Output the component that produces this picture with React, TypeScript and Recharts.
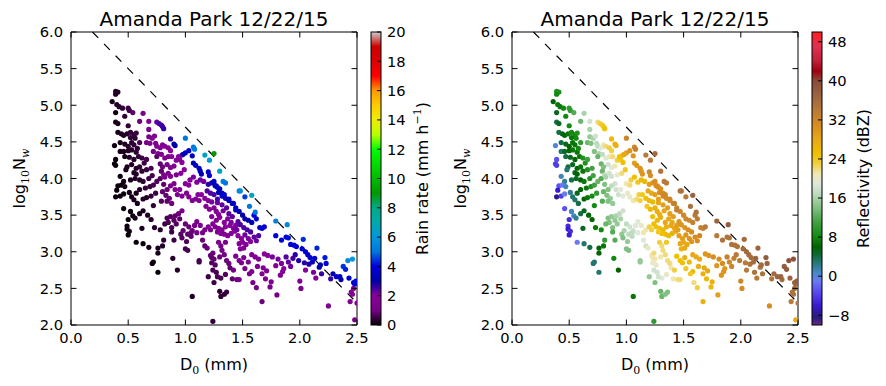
import React from "react"
import { ScatterChart, Scatter, XAxis, YAxis, ReferenceLine } from "recharts"

// each drop: [D0 (mm), log10 Nw, rain rate (mm/h), reflectivity (dBZ)]
type Drop = [number, number, number, number]

const drizzleDrops: Drop[] = [
  [0.39, 5.19, 0.3, 9], [0.41, 5.18, 0.3, 9], [0.39, 5.15, 0.3, 8], [0.36, 5.05, 0.2, 6],
  [0.4, 5.01, 0.3, 7], [0.42, 4.98, 0.3, 7], [0.45, 4.96, 0.4, 8], [0.5, 4.96, 0.5, 10],
  [0.51, 4.93, 0.5, 10], [0.39, 4.9, 0.2, 5], [0.47, 4.85, 0.4, 8], [0.54, 4.9, 0.8, 12],
  [0.39, 4.77, 0.2, 4], [0.41, 4.75, 0.2, 5], [0.5, 4.72, 0.4, 8], [0.41, 4.63, 0.2, 4],
  [0.44, 4.61, 0.2, 5], [0.46, 4.59, 0.3, 6], [0.49, 4.61, 0.3, 7], [0.52, 4.63, 0.4, 8],
  [0.55, 4.6, 0.4, 8], [0.57, 4.62, 0.5, 9], [0.56, 4.55, 0.4, 8], [0.52, 4.56, 0.4, 7],
  [0.38, 4.45, 0.1, 0], [0.43, 4.49, 0.2, 4], [0.47, 4.47, 0.3, 5], [0.5, 4.44, 0.3, 6],
  [0.53, 4.49, 0.3, 7], [0.55, 4.46, 0.4, 7], [0.6, 4.49, 0.6, 10], [0.43, 4.37, 0.2, 3],
  [0.46, 4.37, 0.2, 5], [0.5, 4.38, 0.3, 6], [0.53, 4.39, 0.3, 7], [0.57, 4.36, 0.4, 7],
  [0.58, 4.41, 0.4, 8], [0.39, 4.26, 0.1, -3], [0.38, 4.2, 0.1, -4], [0.39, 4.18, 0.1, -4],
  [0.47, 4.3, 0.2, 4], [0.51, 4.29, 0.3, 5], [0.55, 4.26, 0.3, 6], [0.59, 4.3, 0.4, 7],
  [0.62, 4.28, 0.5, 9], [0.49, 4.16, 0.2, 4], [0.53, 4.19, 0.3, 5], [0.57, 4.14, 0.3, 6],
  [0.6, 4.16, 0.4, 7], [0.64, 4.21, 0.5, 9], [0.66, 4.26, 0.6, 11], [0.48, 4.12, 0.2, 3],
  [0.55, 4.08, 0.3, 5], [0.57, 4.06, 0.3, 6], [0.62, 4.1, 0.4, 7], [0.66, 4.12, 0.5, 9],
  [0.7, 4.14, 0.6, 11], [0.43, 4.03, 0.1, 1], [0.46, 3.96, 0.2, 2], [0.52, 3.98, 0.2, 4],
  [0.56, 4.0, 0.3, 5], [0.6, 3.98, 0.3, 6], [0.63, 3.96, 0.4, 7], [0.68, 4.0, 0.5, 9],
  [0.71, 4.04, 0.6, 11], [0.41, 3.9, 0.1, -3], [0.44, 3.91, 0.1, -1], [0.47, 3.89, 0.2, 1],
  [0.4, 3.84, 0.1, -6], [0.39, 3.75, 0.1, -8], [0.43, 3.76, 0.1, -4], [0.46, 3.79, 0.1, -1],
  [0.51, 3.81, 0.2, 2], [0.53, 3.75, 0.2, 3], [0.57, 3.8, 0.2, 5], [0.6, 3.85, 0.3, 6],
  [0.65, 3.87, 0.4, 7], [0.69, 3.89, 0.5, 9], [0.72, 3.91, 0.6, 11], [0.75, 3.96, 0.7, 13],
  [0.55, 3.71, 0.2, 3], [0.58, 3.66, 0.2, 4], [0.63, 3.72, 0.3, 6], [0.66, 3.74, 0.3, 7],
  [0.7, 3.76, 0.4, 8], [0.74, 3.8, 0.5, 10], [0.46, 3.59, 0.1, -3], [0.52, 3.55, 0.1, 1],
  [0.54, 3.49, 0.1, 1], [0.56, 3.46, 0.2, 2], [0.5, 3.44, 0.1, -5], [0.6, 3.52, 0.2, 4],
  [0.63, 3.56, 0.2, 5], [0.67, 3.5, 0.3, 6], [0.7, 3.44, 0.3, 6], [0.72, 3.63, 0.4, 8],
  [0.49, 3.35, 0.1, -5], [0.49, 3.31, 0.1, -6], [0.51, 3.28, 0.1, -5], [0.5, 3.23, 0.1, -6],
  [0.62, 3.32, 0.2, 5], [0.73, 3.33, 0.3, 7], [0.78, 3.3, 0.3, 8], [0.57, 3.13, 0.1, -1],
  [0.63, 3.11, 0.1, 3], [0.68, 3.06, 0.2, 4], [0.76, 3.05, 0.2, 6], [0.8, 3.08, 0.3, 7],
  [0.76, 2.98, 0.2, 6], [0.71, 2.84, 0.1, 3], [0.72, 2.86, 0.1, 3], [0.76, 2.72, 0.1, 3],
  [0.89, 2.91, 0.3, 8], [0.93, 2.75, 0.3, 6], [1.06, 2.39, 0.3, 7], [1.24, 2.05, 0.4, 10],
]

const moderateDrops: Drop[] = [
  [0.63, 4.89, 1.4, 16], [0.68, 4.78, 1.5, 18], [0.6, 4.78, 0.9, 13], [0.68, 4.67, 1.3, 16],
  [0.68, 4.57, 1.2, 15], [0.71, 4.55, 1.3, 16], [0.73, 4.58, 1.5, 18], [0.66, 4.49, 1.0, 13],
  [0.69, 4.48, 1.2, 14], [0.74, 4.48, 1.4, 17], [0.75, 4.44, 1.4, 17], [0.78, 4.42, 1.6, 19],
  [0.8, 4.46, 1.8, 21], [0.82, 4.44, 1.9, 22], [0.85, 4.42, 2.0, 23], [0.87, 4.38, 2.0, 23],
  [0.72, 4.37, 1.0, 14], [0.76, 4.34, 1.2, 16], [0.79, 4.33, 1.3, 17], [0.82, 4.28, 1.4, 19],
  [0.85, 4.3, 1.6, 21], [0.88, 4.3, 1.7, 22], [0.92, 4.25, 1.8, 23], [0.95, 4.26, 1.9, 24],
  [0.97, 4.22, 2.0, 25], [0.84, 4.19, 1.3, 18], [0.87, 4.15, 1.4, 19], [0.9, 4.17, 1.5, 21],
  [0.94, 4.3, 2.0, 25], [0.97, 4.32, 2.1, 26], [0.75, 4.3, 0.8, 13], [0.78, 4.2, 0.8, 13],
  [0.8, 4.16, 0.9, 14], [0.79, 4.1, 0.8, 13], [0.78, 4.0, 0.7, 12],
  [0.81, 4.05, 1.4, 17], [0.82, 4.02, 1.3, 16], [0.85, 4.07, 1.4, 18], [0.87, 4.03, 1.5, 18],
  [0.92, 4.05, 1.6, 20], [0.96, 4.07, 1.8, 22], [0.99, 4.12, 2.0, 24], [0.9, 3.93, 1.4, 18],
  [0.87, 3.9, 1.3, 17], [0.91, 3.85, 1.4, 18], [0.95, 3.85, 1.6, 19], [0.93, 3.78, 1.4, 18],
  [0.97, 3.76, 1.5, 19], [0.81, 3.92, 0.8, 14], [0.84, 3.85, 0.9, 14], [0.8, 3.82, 0.8, 13],
  [0.83, 3.77, 0.8, 14], [0.86, 3.73, 0.9, 15], [0.79, 3.69, 0.7, 12], [0.84, 3.69, 0.8, 14],
  [0.88, 3.66, 0.9, 15], [1.0, 3.93, 1.8, 21], [1.03, 3.91, 1.9, 22], [1.04, 3.98, 2.0, 23],
  [1.07, 4.02, 2.1, 25], [1.1, 3.95, 2.0, 24], [1.13, 3.98, 2.2, 26], [1.16, 3.96, 2.2, 26],
  [1.01, 3.8, 1.5, 20], [1.03, 3.75, 1.5, 20], [1.06, 3.7, 1.5, 21], [1.09, 3.72, 1.7, 22],
  [1.11, 3.78, 1.9, 23], [1.14, 3.78, 2.0, 24], [1.12, 3.7, 1.7, 23], [1.17, 3.73, 2.0, 25],
  [1.2, 3.7, 2.0, 26], [1.23, 3.68, 2.1, 26], [1.18, 3.62, 1.8, 24],
  [0.84, 3.46, 0.6, 14], [0.87, 3.48, 0.7, 15], [0.9, 3.43, 0.7, 15], [0.91, 3.49, 0.8, 16],
  [0.94, 3.52, 0.9, 17], [0.97, 3.56, 1.0, 18], [0.95, 3.45, 0.8, 16], [0.92, 3.38, 0.7, 15],
  [0.88, 3.33, 0.6, 14], [0.85, 3.4, 0.6, 14], [0.82, 3.38, 0.5, 13], [1.0, 3.38, 0.9, 17],
  [1.03, 3.34, 0.9, 18], [1.06, 3.29, 0.9, 18], [1.08, 3.36, 1.0, 19], [1.1, 3.41, 1.1, 19],
  [1.13, 3.36, 1.1, 20], [1.1, 3.26, 1.0, 19], [1.05, 3.26, 0.9, 17], [1.02, 3.24, 0.8, 17],
  [0.98, 3.29, 0.8, 16], [0.96, 3.24, 0.7, 15], [0.97, 3.19, 0.7, 14], [1.01, 3.14, 0.7, 15],
  [1.05, 3.21, 0.8, 17], [1.15, 3.26, 1.1, 21], [1.17, 3.3, 1.2, 21], [0.9, 3.16, 0.5, 12],
  [0.81, 3.16, 0.4, 10], [0.88, 3.27, 0.5, 12], [1.0, 3.04, 0.6, 14], [1.02, 3.02, 0.6, 14],
  [1.12, 2.88, 0.6, 15], [1.12, 2.86, 0.6, 15], [1.15, 3.16, 0.9, 19], [1.17, 3.08, 0.8, 18],
  [1.22, 2.95, 0.8, 21], [1.23, 2.92, 0.8, 21], [1.24, 2.98, 0.9, 22], [1.25, 2.9, 0.8, 21],
  [1.23, 2.85, 0.7, 20], [1.26, 2.82, 0.7, 20], [1.24, 2.75, 0.6, 18], [1.27, 2.72, 0.6, 18],
  [1.31, 3.08, 1.0, 22], [1.32, 3.02, 1.0, 22], [1.34, 2.96, 1.0, 22], [1.3, 2.93, 0.9, 21],
  [1.36, 2.88, 0.9, 22], [1.38, 2.84, 0.9, 22], [1.39, 2.78, 0.8, 21], [1.35, 2.69, 0.7, 20],
  [1.31, 2.64, 0.6, 19], [1.41, 2.63, 0.8, 21], [1.45, 2.62, 0.9, 22], [1.25, 2.58, 0.5, 14],
  [1.3, 2.46, 0.4, 13], [1.31, 2.39, 0.4, 13], [1.34, 2.42, 0.4, 14], [1.36, 2.45, 0.5, 14],
  [1.28, 2.66, 0.6, 18], [1.42, 2.75, 1.0, 23], [1.2, 2.66, 0.5, 15], [1.19, 3.05, 0.9, 20],
  [1.29, 3.13, 1.1, 23], [1.35, 3.13, 1.2, 24],
]

const largeDrops: Drop[] = [
  [1.25, 3.6, 1.9, 27], [1.27, 3.55, 1.9, 27], [1.29, 3.51, 1.9, 27], [1.3, 3.47, 1.9, 27],
  [1.27, 3.43, 1.7, 26], [1.24, 3.38, 1.6, 25], [1.26, 3.34, 1.6, 25], [1.29, 3.32, 1.6, 25],
  [1.32, 3.3, 1.7, 26], [1.35, 3.34, 1.9, 27], [1.34, 3.4, 2.0, 28], [1.37, 3.45, 2.1, 28],
  [1.4, 3.4, 2.1, 28], [1.39, 3.36, 2.0, 28], [1.42, 3.32, 2.0, 28], [1.44, 3.36, 2.1, 29],
  [1.43, 3.28, 1.9, 28], [1.4, 3.25, 1.8, 27], [1.37, 3.22, 1.7, 26], [1.34, 3.24, 1.6, 26],
  [1.31, 3.25, 1.5, 25], [1.28, 3.27, 1.5, 24], [1.22, 3.3, 1.4, 23], [1.2, 3.34, 1.4, 23],
  [1.23, 3.48, 1.7, 25], [1.21, 3.58, 1.8, 26], [1.33, 3.56, 2.1, 28], [1.36, 3.6, 2.3, 29],
  [1.32, 3.64, 2.3, 29], [1.28, 3.67, 2.2, 28], [1.38, 3.52, 2.3, 29], [1.41, 3.48, 2.3, 29],
  [1.46, 3.41, 2.3, 30], [1.46, 3.22, 2.0, 29], [1.49, 3.18, 2.0, 29], [1.52, 3.23, 2.2, 30],
  [1.55, 3.18, 2.1, 30], [1.57, 3.14, 2.0, 30], [1.6, 3.2, 2.3, 31], [1.62, 3.15, 2.2, 31],
  [1.64, 3.22, 2.4, 32], [1.5, 3.13, 1.9, 28], [1.53, 3.1, 1.8, 28], [1.48, 3.04, 1.6, 27],
  [1.51, 3.05, 1.7, 28], [1.47, 3.11, 1.7, 28], [1.44, 2.94, 1.3, 25], [1.47, 2.88, 1.3, 25],
  [1.49, 2.85, 1.3, 25], [1.51, 2.92, 1.5, 27], [1.55, 2.86, 1.4, 26], [1.58, 2.96, 1.7, 28],
  [1.61, 2.93, 1.7, 28], [1.64, 2.9, 1.7, 28], [1.69, 2.97, 2.0, 30], [1.72, 2.95, 2.0, 30],
  [1.76, 2.93, 2.1, 31], [1.79, 2.81, 1.8, 30], [1.81, 2.9, 2.1, 31], [1.84, 2.84, 2.1, 31],
  [1.86, 2.77, 1.9, 30], [1.88, 2.93, 2.4, 33], [1.9, 2.86, 2.3, 32], [1.92, 2.8, 2.2, 32],
  [1.94, 2.91, 2.5, 33], [1.96, 2.96, 2.7, 34], [1.58, 2.73, 1.3, 26], [1.63, 2.8, 1.5, 27],
  [1.67, 2.7, 1.4, 27], [1.7, 2.63, 1.4, 26], [1.75, 2.59, 1.4, 27], [1.74, 2.52, 1.3, 26],
  [1.8, 2.41, 1.2, 29], [1.67, 2.32, 0.9, 27], [1.83, 2.68, 1.6, 30], [1.85, 2.73, 1.8, 30],
  [1.52, 2.77, 1.2, 24], [1.56, 2.7, 1.2, 24], [1.59, 2.58, 1.0, 22], [1.47, 2.62, 1.0, 22],
  [1.62, 2.51, 1.0, 23], [1.71, 2.74, 1.6, 28], [1.68, 2.78, 1.6, 28],
  [2.0, 2.6, 1.6, 32], [2.01, 2.5, 1.4, 31], [2.05, 2.75, 2.0, 34], [2.12, 2.72, 2.1, 35],
  [2.14, 2.64, 1.9, 34], [2.25, 2.26, 1.3, 31], [2.44, 2.32, 1.6, 34], [2.45, 2.45, 1.9, 35],
  [2.46, 2.42, 1.8, 35], [2.47, 2.5, 2.0, 36], [2.48, 2.07, 1.2, 28], [2.5, 2.3, 1.5, 34],
  [1.99, 2.88, 2.8, 34], [2.04, 2.85, 2.7, 34], [2.08, 2.83, 2.8, 35], [2.17, 2.79, 3.0, 35],
  [2.19, 2.7, 2.6, 35], [2.27, 2.63, 2.6, 35], [2.29, 2.7, 3.0, 36], [2.36, 2.62, 3.0, 36],
  [2.18, 2.82, 3.2, 36],
  [1.19, 3.83, 2.4, 28], [1.22, 3.8, 2.4, 28], [1.25, 3.78, 2.5, 29], [1.2, 3.92, 2.7, 29],
  [1.23, 3.94, 2.9, 30], [1.27, 3.9, 3.0, 31], [1.3, 3.86, 3.1, 31], [1.32, 3.8, 3.0, 31],
  [1.28, 3.72, 2.5, 29], [1.35, 3.73, 2.8, 31], [1.38, 3.7, 3.0, 31], [1.41, 3.66, 3.1, 32],
  [1.44, 3.6, 3.0, 32], [1.47, 3.55, 3.0, 32], [1.5, 3.5, 3.0, 32], [1.52, 3.45, 2.9, 32],
  [1.55, 3.43, 3.0, 32], [1.58, 3.4, 3.2, 33], [1.48, 3.37, 2.4, 30], [1.51, 3.33, 2.4, 30],
  [1.54, 3.3, 2.5, 31], [1.57, 3.27, 2.5, 31], [1.45, 3.3, 2.2, 29],
]

const heavyDrops: Drop[] = [
  [0.75, 4.77, 2.3, 22], [0.77, 4.75, 2.4, 23], [0.79, 4.73, 2.5, 24], [0.8, 4.71, 2.6, 24],
  [0.81, 4.68, 2.6, 25], [0.87, 4.54, 2.7, 26], [0.9, 4.47, 3.0, 27], [0.91, 4.45, 3.0, 27],
  [1.0, 4.35, 3.5, 29], [0.98, 4.33, 3.2, 28], [1.03, 4.38, 3.7, 30], [1.06, 4.31, 3.5, 30],
  [1.07, 4.21, 3.3, 29], [1.09, 4.18, 3.4, 30], [1.12, 4.14, 3.5, 30], [1.13, 4.1, 3.4, 30],
  [1.14, 4.06, 3.3, 30], [1.2, 4.09, 3.8, 32], [1.21, 4.04, 3.7, 31], [1.25, 3.96, 3.6, 31],
  [1.26, 3.9, 3.4, 31], [1.28, 3.88, 3.5, 31], [1.29, 3.81, 3.3, 31], [1.32, 3.76, 3.5, 32],
  [1.34, 3.78, 3.8, 32], [1.38, 3.72, 3.6, 32], [1.42, 3.66, 3.7, 33], [1.44, 3.57, 3.5, 33],
  [1.52, 3.75, 4.5, 34], [1.6, 3.5, 4.0, 34], [1.62, 3.45, 3.8, 34], [1.65, 3.33, 3.7, 33],
  [1.67, 3.32, 3.7, 33], [1.69, 3.34, 3.9, 34], [1.79, 3.22, 3.8, 34], [1.84, 3.16, 3.7, 35],
  [1.88, 3.2, 4.0, 35], [1.9, 3.19, 4.1, 35], [1.92, 3.1, 3.8, 35], [1.95, 3.09, 3.9, 35],
  [1.97, 3.07, 3.8, 35], [2.03, 3.17, 4.4, 36], [2.02, 3.04, 3.9, 36], [2.05, 3.0, 3.8, 36],
  [2.07, 2.96, 3.7, 36], [2.09, 2.92, 3.6, 36], [2.11, 2.86, 3.5, 36], [2.13, 2.91, 3.8, 37],
  [2.15, 3.05, 4.3, 37], [2.22, 2.92, 4.2, 38], [2.23, 2.84, 3.9, 37], [2.32, 2.66, 3.6, 37],
  [2.35, 2.66, 3.7, 37], [2.38, 2.8, 4.4, 38], [2.4, 2.76, 4.3, 38], [2.43, 2.64, 4.0, 37],
  [2.47, 2.58, 3.9, 37], [2.48, 2.56, 3.8, 37], [2.49, 2.6, 4.1, 38],
  [1.0, 4.55, 5.0, 32], [1.07, 4.43, 5.0, 32], [1.08, 4.4, 5.2, 33], [1.17, 4.32, 6.5, 34],
  [1.21, 4.25, 6.2, 34], [1.25, 4.34, 9.0, 36], [1.3, 4.1, 6.5, 35], [1.33, 3.96, 5.2, 34],
  [1.35, 3.94, 5.0, 34], [1.47, 3.83, 5.5, 35], [1.48, 3.83, 5.6, 35], [1.56, 3.62, 5.0, 35],
  [1.58, 3.77, 6.6, 37], [1.61, 3.54, 5.0, 35], [1.79, 3.42, 5.3, 37], [1.89, 3.37, 5.5, 38],
  [2.42, 2.88, 5.6, 39], [2.46, 2.9, 6.0, 39],
]

const dTicks = [0, 0.5, 1, 1.5, 2, 2.5]
const nwTicks = [2, 2.5, 3, 3.5, 4, 4.5, 5, 5.5, 6]
const rainTicks = [0, 2, 4, 6, 8, 10, 12, 14, 16, 18, 20]
const dbzTicks = [-8, 0, 8, 16, 24, 32, 40, 48]
// log10(Nw) = 6.3 - 1.6 D0
const separator = [{ x: 0.1875, y: 6 }, { x: 2.5, y: 2.3 }]

const drops = [...drizzleDrops, ...moderateDrops, ...largeDrops, ...heavyDrops].map(
  ([d0, nw, rain, dbz]) => ({ d0, nw, rain, dbz })
)

const FONT = "DejaVu Sans"
const MATH = "DejaVu Serif"
const W = 445
const H = 386
const PLOT_L = 71
const PLOT_R = 357
const PLOT_T = 32
const PLOT_B = 325
const AX = 1 // room the axes take inside the margins
const TICK = 5.5
const tickFont = { fontFamily: FONT, fontSize: 14.7, fill: "#000" }

// nipy_spectral
const spectralStops: [number, string][] = [
  [0, "#000000"], [0.05, "#770088"], [0.1, "#880099"], [0.15, "#0000aa"], [0.2, "#0000dd"],
  [0.25, "#0077dd"], [0.3, "#0099dd"], [0.35, "#00aaaa"], [0.4, "#00aa88"], [0.45, "#009900"],
  [0.5, "#00bb00"], [0.55, "#00dd00"], [0.6, "#00ff00"], [0.65, "#bbff00"], [0.7, "#eeee00"],
  [0.75, "#ffcc00"], [0.8, "#ff9900"], [0.85, "#ff0000"], [0.9, "#dd0000"], [0.95, "#cc0000"],
  [1, "#cccccc"],
]

const dbzStops: [number, string][] = [
  [-10, "#6a2a8a"], [-8.5, "#281a7a"], [-6, "#3a1ad0"], [-3, "#5a50f0"], [-1, "#6a7af0"],
  [0.5, "#4a88d0"], [2.5, "#2a7a80"], [4.5, "#0a6a30"], [6, "#006400"], [8, "#108a10"],
  [11, "#40a040"], [14, "#80c080"], [17, "#c0dcc0"], [19, "#e0e8dc"], [21, "#f0e6b0"],
  [23, "#f0d040"], [25, "#f0c000"], [28, "#e8a818"], [31, "#d88c20"], [34, "#b87a38"],
  [37, "#9a6440"], [40, "#8a4a3a"], [42, "#a00010"], [44, "#c02038"], [47, "#e03050"],
  [50, "#ff2020"],
].map(([v, c]) => [((v as number) + 10) / 60, c as string])

function hex(c: string) {
  return [1, 3, 5].map((i) => parseInt(c.slice(i, i + 2), 16))
}

function sample(stops: [number, string][], t: number) {
  const u = Math.min(1, Math.max(0, t))
  for (let i = 1; i < stops.length; i++) {
    if (u <= stops[i][0]) {
      const [t0, c0] = stops[i - 1]
      const [t1, c1] = stops[i]
      const f = (u - t0) / (t1 - t0 || 1)
      const a = hex(c0)
      const b = hex(c1)
      return `rgb(${a.map((v, k) => Math.round(v + (b[k] - v) * f)).join(",")})`
    }
  }
  return stops[stops.length - 1][1]
}

const rainColor = (r: number) => sample(spectralStops, r / 20)
const dbzColor = (z: number) => sample(dbzStops, (z + 10) / 60)

function BottomTick({ x, payload }: any) {
  return (
    <g>
      <line x1={x} x2={x} y1={PLOT_B} y2={PLOT_B - TICK} stroke="#000" />
      <text x={x} y={343} textAnchor="middle" {...tickFont}>
        {payload.value.toFixed(1)}
      </text>
    </g>
  )
}

function TopTick({ x }: any) {
  return <line x1={x} x2={x} y1={PLOT_T} y2={PLOT_T + TICK} stroke="#000" />
}

function LeftTick({ y, payload }: any) {
  return (
    <g>
      <line x1={PLOT_L} x2={PLOT_L + TICK} y1={y} y2={y} stroke="#000" />
      <text x={63} y={y + 5.3} textAnchor="end" {...tickFont}>
        {payload.value.toFixed(1)}
      </text>
    </g>
  )
}

function RightTick({ y }: any) {
  return <line x1={PLOT_R} x2={PLOT_R - TICK} y1={y} y2={y} stroke="#000" />
}

interface PanelProps {
  left: number
  colorOf: (d: { rain: number; dbz: number }) => string
  stops: [number, string][]
  cbTicks: number[]
  cbMin: number
  cbMax: number
  cbLabel: React.ReactNode
  id: string
}

function Panel({ left, colorOf, stops, cbTicks, cbMin, cbMax, cbLabel, id }: PanelProps) {
  const cbX = 371
  const cbW = 10
  const cbY = (v: number) => PLOT_B - ((v - cbMin) / (cbMax - cbMin)) * (PLOT_B - PLOT_T)
  return (
    <div style={{ position: "absolute", left, top: 0, width: W, height: H }}>
      <div style={{ position: "absolute", left: 0, top: 0 }}>
        <ScatterChart
          width={W}
          height={H}
          margin={{ top: PLOT_T - AX, right: W - PLOT_R - AX, bottom: H - PLOT_B - AX, left: PLOT_L - AX }}
        >
          <XAxis xAxisId="b" type="number" dataKey="d0" domain={[0, 2.5]} ticks={dTicks} interval={0}
            allowDataOverflow height={AX} tickLine={false} axisLine={{ stroke: "#000" }} tick={BottomTick} />
          <XAxis xAxisId="t" orientation="top" type="number" dataKey="d0" domain={[0, 2.5]} ticks={dTicks} interval={0}
            allowDataOverflow height={AX} tickLine={false} axisLine={{ stroke: "#000" }} tick={TopTick} />
          <YAxis yAxisId="l" type="number" dataKey="nw" domain={[2, 6]} ticks={nwTicks} interval={0}
            allowDataOverflow width={AX} tickLine={false} axisLine={{ stroke: "#000" }} tick={LeftTick} />
          <YAxis yAxisId="r" orientation="right" type="number" dataKey="nw" domain={[2, 6]} ticks={nwTicks} interval={0}
            allowDataOverflow width={AX} tickLine={false} axisLine={{ stroke: "#000" }} tick={RightTick} />
          <Scatter
            xAxisId="b"
            yAxisId="l"
            data={drops}
            isAnimationActive={false}
            shape={(p: any) => <circle cx={p.cx} cy={p.cy} r={2.6} fill={colorOf(p.payload)} />}
          />
          <ReferenceLine xAxisId="b" yAxisId="l" segment={separator} stroke="#000" strokeWidth={1.2}
            strokeDasharray="8.3 8.3" />
        </ScatterChart>
      </div>
      <svg width={W} height={H} style={{ position: "absolute", left: 0, top: 0, pointerEvents: "none" }}
        fontFamily={FONT}>
        <defs>
          <linearGradient id={id} x1="0" y1="1" x2="0" y2="0">
            {stops.map(([t, c]) => (
              <stop key={t} offset={t} stopColor={c} />
            ))}
          </linearGradient>
        </defs>
        <text x={(PLOT_L + PLOT_R) / 2} y={25.5} textAnchor="middle" fontSize={20}>
          Amanda Park 12/22/15
        </text>
        <text x={(PLOT_L + PLOT_R) / 2} y={370} textAnchor="middle" fontSize={16}>
          D<tspan fontFamily={MATH} fontSize={11} dy={4}>0</tspan>
          <tspan dy={-4}> (mm)</tspan>
        </text>
        <text transform={`translate(25, ${(PLOT_T + PLOT_B) / 2}) rotate(-90)`} textAnchor="middle" fontSize={16}>
          log<tspan fontFamily={MATH} fontSize={11} dy={4}>10</tspan>
          <tspan dy={-4}>N</tspan>
          <tspan fontFamily={MATH} fontStyle="italic" fontSize={11} dy={4}>w</tspan>
        </text>
        <rect x={cbX} y={PLOT_T} width={cbW} height={PLOT_B - PLOT_T} fill={`url(#${id})`} stroke="#000" />
        {cbTicks.map((v) => (
          <g key={v}>
            <line x1={cbX + cbW} x2={cbX + cbW - 4} y1={cbY(v)} y2={cbY(v)} stroke="#000" />
            <text x={387} y={cbY(v) + 5.3} {...tickFont}>
              {v < 0 ? `\u2212${-v}` : v}
            </text>
          </g>
        ))}
        <text transform={`translate(428, ${(PLOT_T + PLOT_B) / 2}) rotate(-90)`} textAnchor="middle" fontSize={16}>
          {cbLabel}
        </text>
      </svg>
    </div>
  )
}

export default function App() {
  return (
    <div style={{ position: "absolute", left: 0, top: 0, width: 886, height: 386, background: "#fff" }}>
      <Panel
        id="rainbar"
        left={0}
        colorOf={(d) => rainColor(d.rain)}
        stops={spectralStops}
        cbTicks={rainTicks}
        cbMin={0}
        cbMax={20}
        cbLabel={
          <>
            Rain rate (mm h<tspan fontFamily={MATH} fontSize={11} dy={-7}>{"\u22121"}</tspan>
            <tspan dy={7}>)</tspan>
          </>
        }
      />
      <Panel
        id="dbzbar"
        left={441}
        colorOf={(d) => dbzColor(d.dbz)}
        stops={dbzStops}
        cbTicks={dbzTicks}
        cbMin={-10}
        cbMax={50}
        cbLabel="Reflectivity (dBZ)"
      />
    </div>
  )
}
